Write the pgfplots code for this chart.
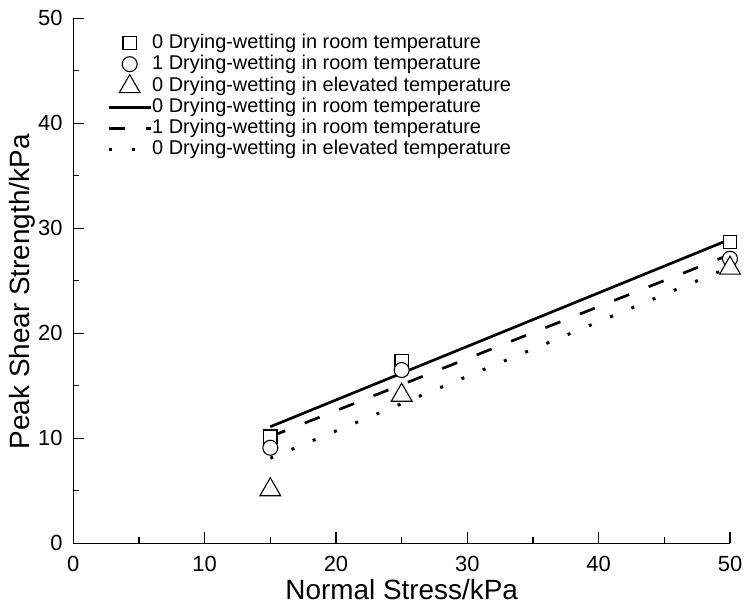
\documentclass[border=0pt]{standalone}
\usepackage{fontspec}
\setmainfont{Liberation Sans}
\usepackage{pgfplots}
\pgfplotsset{compat=1.18}
\begin{document}
\begin{tikzpicture}
\begin{axis}[
  name=ax, at={(0,0)}, anchor=south west,
  scale only axis, width=656.7bp, height=525bp,
  xmin=0, xmax=50, ymin=0, ymax=50,
  axis x line=bottom, axis y line=left,
  axis line style={-, line width=1.5bp},
  xtick={0,10,...,50}, ytick={0,10,...,50},
  minor tick num=1,
  tick align=inside,
  major tick length=11bp, minor tick length=6bp,
  every tick/.style={black, line width=1.3bp},
  /pgf/number format/assume math mode=true,
  tick label style={font=\fontsize{22}{25}\selectfont, inner sep=0pt},
  xticklabel style={anchor=center, yshift=-21bp},
  yticklabel style={anchor=east, xshift=-10.6bp},
  xlabel={Normal Stress/kPa}, ylabel={Peak Shear Strength/kPa},
  label style={font=\fontsize{28}{31}\selectfont, inner sep=0pt},
  xlabel style={at={(rel axis cs:0.5,0)}, anchor=center, yshift=-46.7bp},
  ylabel style={at={(rel axis cs:-0.0774,0.479)}, anchor=center, rotate=0},
  legend style={draw=none, fill=none, at={(rel axis cs:0,1)}, anchor=north west,
    xshift=33.7bp, yshift=-14.2bp, inner sep=0pt,
    font=\fontsize{20}{23}\selectfont,
    nodes={text height=14bp, text depth=4bp, inner ysep=1.5bp, inner xsep=0pt},
    /tikz/every even column/.append style={column sep=4bp}},
  legend cell align=left,
  legend image code/.code={\draw[mark repeat=2,mark phase=2,#1] plot coordinates {(0bp,0bp) (21bp,0bp) (42bp,0bp)};},
]
\addplot[only marks, mark=square*, mark size=6.7bp, mark options={draw=black, fill=white, line width=1.1bp}]
  coordinates {(15,10.15) (25,17.3) (50,28.7)};
\addlegendentry{0 Drying-wetting in room temperature}
\addplot[only marks, mark=*, mark size=7.5bp, mark options={draw=black, fill=white, line width=1.1bp}]
  coordinates {(15,9.1) (25,16.5) (50,27.1)};
\addlegendentry{1 Drying-wetting in room temperature}
\addplot[only marks, mark=triangle*, mark size=12bp, mark options={draw=black, fill=white, line width=1.1bp}]
  coordinates {(15,5.1) (25,14.1) (50,26.2)};
\addlegendentry{0 Drying-wetting in elevated temperature}
\addplot[black, line width=2.7bp, no marks]
  coordinates {(15,11.1) (50,28.95)};
\addlegendentry{0 Drying-wetting in room temperature}
\addplot[black, line width=2.7bp, no marks, dash pattern=on 16bp off 21bp]
  coordinates {(15,10.15) (50,27.5)};
\addlegendentry{1 Drying-wetting in room temperature}
\addplot[black, line width=3bp, no marks, dash pattern=on 3bp off 20bp]
  coordinates {(15,8.1) (50,26.3)};
\addlegendentry{0 Drying-wetting in elevated temperature}
\end{axis}
\pgfresetboundingbox
\path ([xshift=-73.3bp,yshift=-63.7bp]ax.south west) rectangle ([xshift=14bp,yshift=18.3bp]ax.north east);
\end{tikzpicture}
\end{document}
